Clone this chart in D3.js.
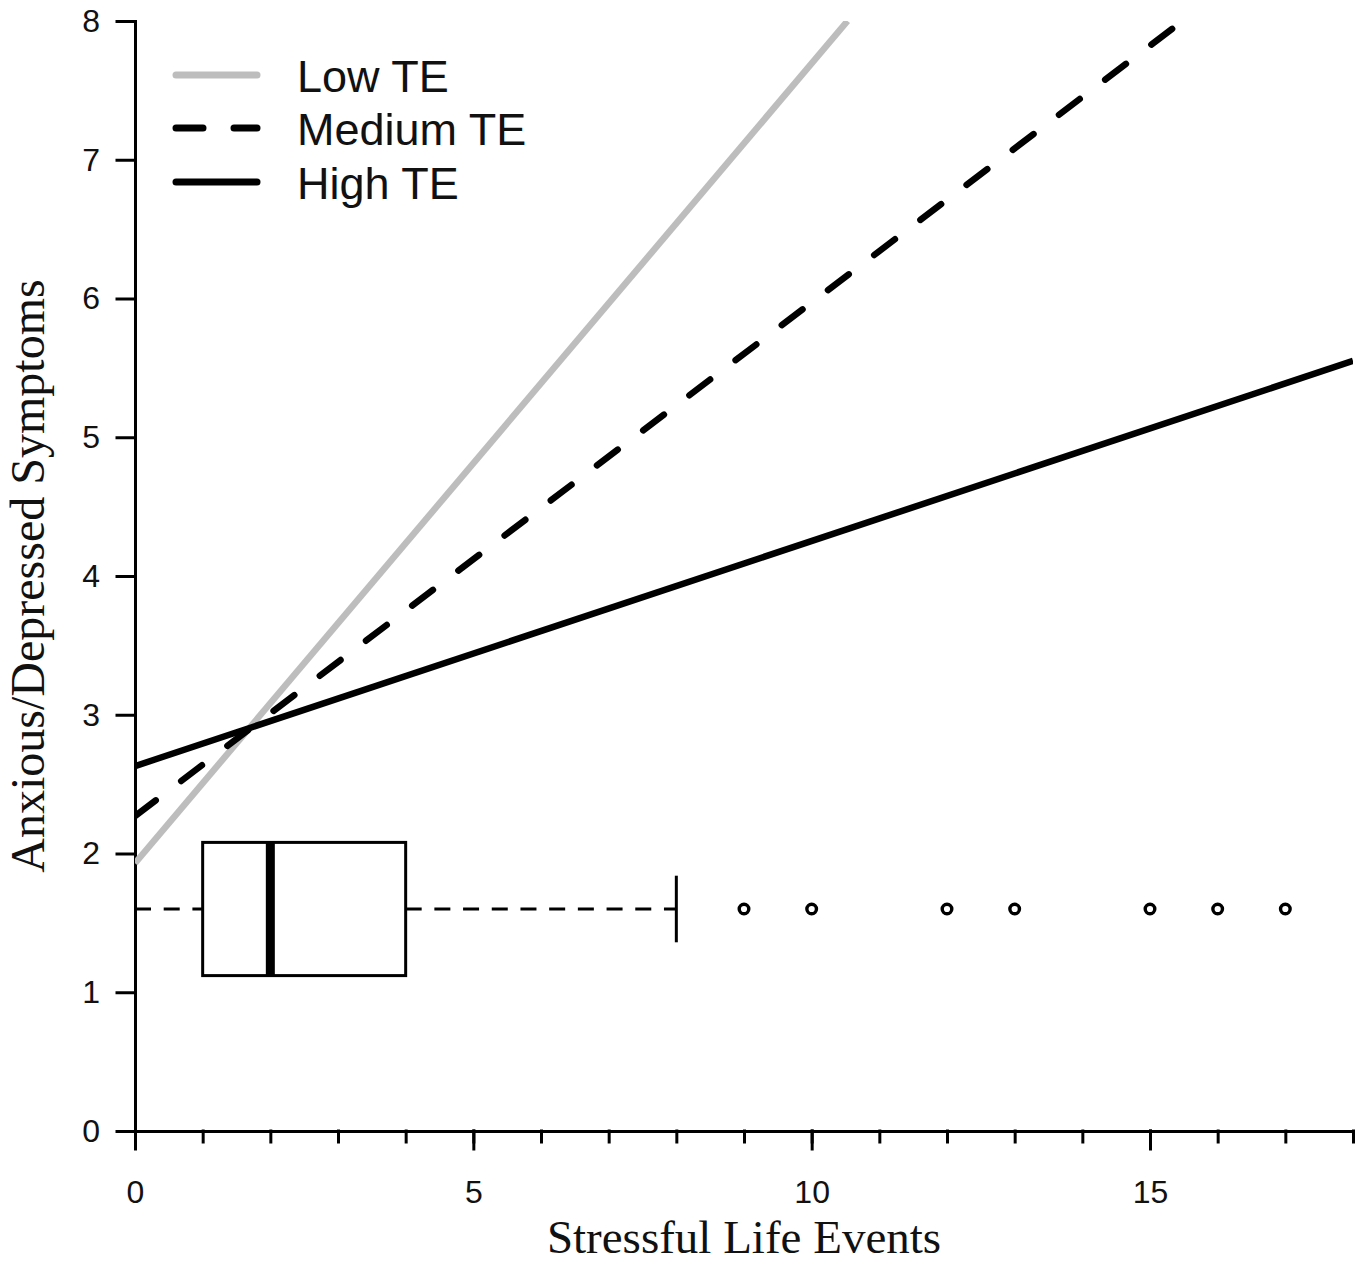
<!DOCTYPE html>
<html>
<head>
<meta charset="utf-8">
<script src="https://cdn.jsdelivr.net/npm/d3@7"></script>
<style>
  html, body { margin: 0; padding: 0; background: #fff; }
  svg { display: block; }
</style>
</head>
<body>
<svg id="chart" width="1363" height="1265"></svg>
<script>
// ---- data ----
const xTicksMajor = [0, 5, 10, 15];
const xTicksMinor = d3.range(0, 19);
const yTicks = [0, 1, 2, 3, 4, 5, 6, 7, 8];
const seriesNames = ["Low TE", "Medium TE", "High TE"];
const lowTE = [{x: 0, y: 1.93}, {x: 10.53, y: 8.0}];
const mediumTE = [{x: 0, y: 2.27}, {x: 15.48, y: 8.0}];
const highTE = [{x: 0, y: 2.63}, {x: 18, y: 5.55}];
const boxStats = {min: 0, q1: 1, median: 2, q3: 4, max: 8};
const boxAt = 1.6;        // vertical centre of the boxplot (y units)
const boxHalf = 0.48;     // half height of the box (y units)
const outliers = [9, 10, 12, 13, 15, 16, 17];
const xLabel = "Stressful Life Events";
const yLabel = "Anxious/Depressed Symptoms";

// ---- layout ----
const W = 1363, H = 1265;
const pLeft = 135, pRight = 1353, pTop = 21, pBottom = 1131;
const svg = d3.select("#chart");
svg.append("rect").attr("width", W).attr("height", H).attr("fill", "#fff");

const x = d3.scaleLinear().domain([0, 18]).range([pLeft, pRight]);
const y = d3.scaleLinear().domain([0, 8]).range([pBottom, pTop]);

const sansFont = "'Liberation Sans', Arial, sans-serif";
const serifFont = "'Liberation Serif', 'Times New Roman', serif";

// ---- axes ----
const axW = 3;
const gyAxis = svg.append("g").attr("transform", `translate(${pLeft},0)`)
  .call(d3.axisLeft(y).tickValues(yTicks).tickSize(18).tickSizeOuter(0).tickPadding(17).tickFormat(d3.format("d")));
const gxMinor = svg.append("g").attr("transform", `translate(0,${pBottom})`)
  .call(d3.axisBottom(x).tickValues(xTicksMinor).tickSize(11).tickSizeOuter(0).tickFormat(""));
const gxMajor = svg.append("g").attr("transform", `translate(0,${pBottom})`)
  .call(d3.axisBottom(x).tickValues(xTicksMajor).tickSize(18).tickSizeOuter(0).tickPadding(31).tickFormat(d3.format("d")));
gxMinor.select(".domain").remove();
[gyAxis, gxMinor, gxMajor].forEach(g => {
  g.selectAll("path, line").attr("stroke", "#000").attr("stroke-width", axW).attr("stroke-linecap", "square");
  g.selectAll("text").attr("font-family", sansFont).attr("font-size", 32).attr("fill", "#111");
});

// ---- axis titles ----
svg.append("text").attr("x", (pLeft + pRight) / 2).attr("y", 1253)
  .attr("text-anchor", "middle").attr("font-family", serifFont).attr("font-size", 47)
  .attr("fill", "#111").text(xLabel);
svg.append("text").attr("transform", `translate(44,${(pTop + pBottom) / 2}) rotate(-90)`)
  .attr("text-anchor", "middle").attr("font-family", serifFont).attr("font-size", 48)
  .attr("fill", "#111").text(yLabel);

// ---- boxplot ----
const bp = svg.append("g");
const whiskerDash = "16 12.7";
bp.append("line").attr("x1", x(boxStats.min)).attr("x2", x(boxStats.q1))
  .attr("y1", y(boxAt)).attr("y2", y(boxAt))
  .attr("stroke", "#000").attr("stroke-width", 3).attr("stroke-dasharray", whiskerDash);
bp.append("line").attr("x1", x(boxStats.q3)).attr("x2", x(boxStats.max))
  .attr("y1", y(boxAt)).attr("y2", y(boxAt))
  .attr("stroke", "#000").attr("stroke-width", 3).attr("stroke-dasharray", whiskerDash);
bp.append("line").attr("x1", x(boxStats.max)).attr("x2", x(boxStats.max))
  .attr("y1", y(boxAt + boxHalf / 2)).attr("y2", y(boxAt - boxHalf / 2))
  .attr("stroke", "#000").attr("stroke-width", 3);
bp.append("rect").attr("x", x(boxStats.q1)).attr("width", x(boxStats.q3) - x(boxStats.q1))
  .attr("y", y(boxAt + boxHalf)).attr("height", y(boxAt - boxHalf) - y(boxAt + boxHalf))
  .attr("fill", "#fff").attr("stroke", "#000").attr("stroke-width", 3);
bp.append("line").attr("x1", x(boxStats.median)).attr("x2", x(boxStats.median))
  .attr("y1", y(boxAt + boxHalf)).attr("y2", y(boxAt - boxHalf))
  .attr("stroke", "#000").attr("stroke-width", 9);
bp.selectAll("circle").data(outliers).join("circle")
  .attr("cx", d => x(d)).attr("cy", y(boxAt)).attr("r", 4.8)
  .attr("fill", "none").attr("stroke", "#000").attr("stroke-width", 3.4);

// ---- regression lines ----
const line = d3.line().x(d => x(d.x)).y(d => y(d.y));
const styles = [
  {data: lowTE, color: "#bdbdbd", dash: null},
  {data: mediumTE, color: "#000", dash: "26 32"},
  {data: highTE, color: "#000", dash: null}
];
svg.append("clipPath").attr("id", "plotclip").append("rect")
  .attr("x", pLeft).attr("y", pTop).attr("width", pRight - pLeft).attr("height", pBottom - pTop);
const lg = svg.append("g").attr("clip-path", "url(#plotclip)");
styles.forEach(s => {
  lg.append("path").datum(s.data).attr("d", line)
    .attr("fill", "none").attr("stroke", s.color).attr("stroke-width", 6.5)
    .attr("stroke-linecap", s.dash ? "round" : "butt")
    .attr("stroke-dasharray", s.dash);
});

// ---- legend ----
const leg = svg.append("g");
const legY = [75, 128, 182];
seriesNames.forEach((name, i) => {
  const s = styles[i];
  leg.append("line").attr("x1", 176).attr("x2", 257).attr("y1", legY[i]).attr("y2", legY[i])
    .attr("stroke", s.color).attr("stroke-width", 7).attr("stroke-linecap", "round")
    .attr("stroke-dasharray", s.dash ? "27 31" : null);
  leg.append("text").attr("x", 297).attr("y", legY[i] + 17)
    .attr("font-family", sansFont).attr("font-size", 45).attr("fill", "#111").text(name);
});
</script>
</body>
</html>
